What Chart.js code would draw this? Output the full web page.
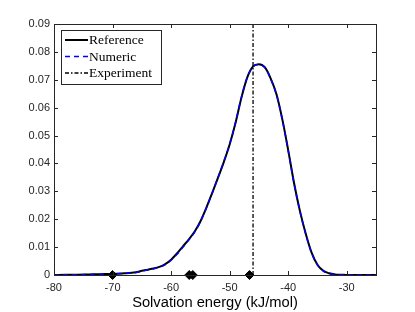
<!DOCTYPE html>
<html>
<head>
<meta charset="utf-8">
<script src="https://cdn.jsdelivr.net/npm/chart.js@4"></script>
<style>
  html, body { margin: 0; padding: 0; background: #fff; }
  #wrap { width: 415px; height: 312px; }
</style>
</head>
<body>
<div id="wrap"><canvas id="c" width="415" height="312"></canvas></div>
<script>
const energy = [-80, -78, -76, -74, -72, -70, -68, -66, -65, -64, -63, -62, -61, -60, -59, -58, -57, -56,
    -55, -54, -53, -52, -51, -50, -49, -48, -47, -46, -45, -44, -43, -42, -41, -40, -39, -38, -37, -36,
    -35, -34, -33, -32, -31, -30, -28, -25];
const reference = [0.0000, 0.0001, 0.0001, 0.0002, 0.0003, 0.0004, 0.0006, 0.0010, 0.0015, 0.0019, 0.0023,
    0.0029, 0.0039, 0.0055, 0.0077, 0.0102, 0.0127, 0.0155, 0.0192, 0.0240, 0.0293, 0.0348, 0.0405, 0.0468,
    0.0545, 0.0635, 0.0708, 0.0748, 0.0756, 0.0745, 0.0705, 0.0648, 0.0558, 0.0448, 0.0330, 0.0230, 0.0148,
    0.0080, 0.0037, 0.0015, 0.0006, 0.0002, 0.0001, 0.0000, 0.0000, 0.0000];
const numeric = [0.0000, 0.0001, 0.0001, 0.0002, 0.0003, 0.0004, 0.0006, 0.0009, 0.0014, 0.0018, 0.0022,
    0.0028, 0.0037, 0.0053, 0.0074, 0.0099, 0.0125, 0.0153, 0.0191, 0.0239, 0.0293, 0.0349, 0.0406, 0.0469,
    0.0546, 0.0636, 0.0708, 0.0748, 0.0755, 0.0744, 0.0704, 0.0647, 0.0557, 0.0447, 0.0329, 0.0229, 0.0147,
    0.0079, 0.0036, 0.0014, 0.0005, 0.0002, 0.0001, 0.0000, 0.0000, 0.0000];
const experiment = -46.0;
const markers = [-70.0, -56.9, -56.3, -46.6];
const xTicks = [-80, -70, -60, -50, -40, -30];
const yTicks = [0, 0.01, 0.02, 0.03, 0.04, 0.05, 0.06, 0.07, 0.08, 0.09];

const axisColor = "#262626";

const toPoints = (xs, ys) => xs.map((x, i) => ({x: x, y: ys[i]}));

// MATLAB style box with inward ticks
const boxPlugin = {
    id: "box",
    afterDatasetsDraw(chart) {
        const {ctx, chartArea: a, scales} = chart;
        ctx.save();
        ctx.strokeStyle = axisColor;
        ctx.lineWidth = 1;
        const len = 4;
        ctx.beginPath();
        scales.x.ticks.forEach(t => {
            const px = Math.round(scales.x.getPixelForValue(t.value)) + 0.5;
            ctx.moveTo(px, a.bottom); ctx.lineTo(px, a.bottom - len);
            ctx.moveTo(px, a.top); ctx.lineTo(px, a.top + len);
        });
        scales.y.ticks.forEach(t => {
            const py = Math.round(scales.y.getPixelForValue(t.value)) + 0.5;
            ctx.moveTo(a.left, py); ctx.lineTo(a.left + len, py);
            ctx.moveTo(a.right, py); ctx.lineTo(a.right - len, py);
        });
        ctx.stroke();
        ctx.strokeRect(Math.round(a.left) + 0.5, Math.round(a.top) + 0.5,
            Math.round(a.right - a.left), Math.round(a.bottom - a.top));
        ctx.restore();
    }
};

const legendPlugin = {
    id: "boxLegend",
    afterDraw(chart) {
        const {ctx, chartArea: a} = chart;
        const x0 = a.left + 7, y0 = a.top + 6, w = 100, h = 54;
        ctx.save();
        ctx.fillStyle = "#fff";
        ctx.fillRect(x0, y0, w, h);
        ctx.strokeStyle = axisColor;
        ctx.lineWidth = 1;
        ctx.strokeRect(x0 + 0.5, y0 + 0.5, w, h);
        const rows = [
            {label: "Reference", color: "#000", width: 2, dash: []},
            {label: "Numeric", color: "#0000ff", width: 1.5, dash: [5, 4]},
            {label: "Experiment", color: "#000", width: 1.3, dash: [4, 2, 1.5, 2]},
        ];
        ctx.font = "13.5px 'Liberation Serif', 'DejaVu Serif', serif";
        ctx.textBaseline = "middle";
        rows.forEach((r, i) => {
            const y = y0 + 10 + i * 16.5;
            ctx.beginPath();
            ctx.setLineDash(r.dash);
            ctx.strokeStyle = r.color;
            ctx.lineWidth = r.width;
            ctx.moveTo(x0 + 4, y);
            ctx.lineTo(x0 + 27, y);
            ctx.stroke();
            ctx.setLineDash([]);
            ctx.fillStyle = "#000";
            ctx.fillText(r.label, x0 + 28, y + 0.5);
        });
        ctx.restore();
    }
};

new Chart(document.getElementById("c"), {
    type: "line",
    data: {
        datasets: [
            {
                label: "Reference",
                data: toPoints(energy, reference),
                borderColor: "#000",
                borderWidth: 2,
                pointRadius: 0,
                cubicInterpolationMode: "monotone",
                order: 3,
            },
            {
                label: "Numeric",
                data: toPoints(energy, numeric),
                borderColor: "#0000ff",
                borderWidth: 1.5,
                borderDash: [5, 4],
                pointRadius: 0,
                cubicInterpolationMode: "monotone",
                order: 2,
            },
            {
                label: "Experiment",
                data: [{x: experiment, y: 0}, {x: experiment, y: 0.09}],
                borderColor: "#000",
                borderWidth: 1.3,
                borderDash: [4, 2, 1.5, 2],
                pointRadius: 0,
                order: 1,
            },
            {
                label: "Markers",
                type: "scatter",
                data: markers.map(x => ({x: x, y: 0})),
                pointStyle: "rectRot",
                pointRadius: 4.5,
                backgroundColor: "#000",
                borderColor: "#000",
                clip: false,
                order: 0,
            },
        ]
    },
    options: {
        responsive: false,
        animation: false,
        layout: {padding: {left: 0, top: 24, right: 39, bottom: 0}},
        scales: {
            x: {
                type: "linear",
                min: -80,
                max: -25,
                afterBuildTicks: scale => { scale.ticks = xTicks.map(v => ({value: v})); },
                afterFit: scale => { scale.height = 37; },
                border: {display: false},
                grid: {display: false, drawTicks: false},
                ticks: {
                    color: axisColor,
                    padding: 6,
                    font: {family: "'Liberation Sans', Arial, sans-serif", size: 11},
                },
                title: {
                    display: true,
                    text: "Solvation energy (kJ/mol)",
                    color: "#000",
                    padding: {top: 1, bottom: 0},
                    font: {family: "'Liberation Sans', Arial, sans-serif", size: 14.7},
                },
            },
            y: {
                min: 0,
                max: 0.09,
                afterBuildTicks: scale => { scale.ticks = yTicks.map(v => ({value: v})); },
                afterFit: scale => { scale.width = 54; },
                border: {display: false},
                grid: {display: false, drawTicks: false},
                ticks: {
                    color: axisColor,
                    padding: 4,
                    font: {family: "'Liberation Sans', Arial, sans-serif", size: 11},
                    callback: v => v === 0 ? "0" : v.toFixed(2),
                },
            },
        },
        plugins: {
            legend: {display: false},
            tooltip: {enabled: false},
        },
    },
    plugins: [boxPlugin, legendPlugin],
});
</script>
</body>
</html>
